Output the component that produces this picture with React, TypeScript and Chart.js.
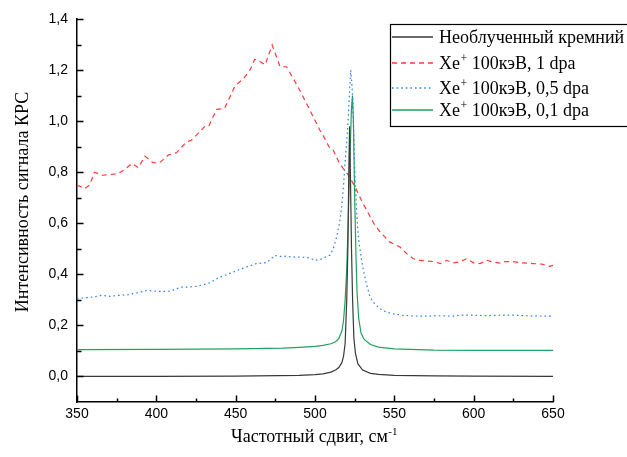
import React, { useEffect, useRef } from "react";
import { Chart, registerables } from "chart.js";

Chart.register(...registerables);

const seriesLabels = [
  ["Необлученный кремний", ""],
  ["Xe", "+", " 100кэВ, 1 dpa"],
  ["Xe", "+", " 100кэВ, 0,5 dpa"],
  ["Xe", "+", " 100кэВ, 0,1 dpa"],
];
const seriesColors = ["#3a3a3a", "#ff3b3b", "#2f7fe6", "#1fa35b"];
const seriesDash: number[][] = [[], [5, 4], [1.6, 3], []];

const xTicks = [350, 400, 450, 500, 550, 600, 650];
const yTicks = [0, 0.2, 0.4, 0.6, 0.8, 1.0, 1.2, 1.4];

const unirradiated: [number, number][] = [
  [350, 0.0], [400, 0.0], [450, 0.001], [490, 0.004], [500, 0.007], [505, 0.01],
  [510, 0.017], [513, 0.025], [515, 0.035], [517, 0.055], [518, 0.08], [519, 0.13],
  [520, 0.3], [520.7, 0.5], [521.3, 0.8], [521.8, 0.98], [522.3, 0.8], [523, 0.5],
  [523.7, 0.3], [524.5, 0.15], [525.5, 0.09], [527, 0.05], [530, 0.025], [535, 0.012],
  [540, 0.008], [550, 0.004], [575, 0.002], [600, 0.001], [650, 0.0],
];

const dpa1: [number, number][] = [
  [350, 0.749], [355, 0.736], [358, 0.75], [361, 0.8], [366, 0.788], [370, 0.79],
  [376, 0.795], [380, 0.81], [384.5, 0.834], [388.7, 0.818], [392.8, 0.863], [398, 0.837],
  [402, 0.837], [407.5, 0.867], [412.8, 0.877], [419, 0.919], [422, 0.925], [426, 0.95],
  [430.7, 0.98], [433, 0.98], [438, 1.046], [443, 1.05], [446, 1.09], [449.5, 1.137],
  [455, 1.167], [459, 1.2], [462, 1.242], [465, 1.235], [468.5, 1.22], [473, 1.298],
  [478, 1.213], [482, 1.213], [486, 1.17], [490.5, 1.12], [496.8, 1.043], [503, 0.965],
  [505, 0.945], [509.4, 0.893], [511.5, 0.886], [515, 0.84], [517.8, 0.814], [522, 0.78],
  [526.3, 0.729], [530, 0.68], [532.6, 0.651], [537, 0.6], [541, 0.566], [547, 0.527],
  [553.5, 0.507], [558, 0.48], [562, 0.461], [566, 0.455], [570.4, 0.452], [575, 0.45],
  [579, 0.442], [583, 0.455], [587, 0.445], [591.3, 0.449], [595.6, 0.461], [600, 0.445],
  [604, 0.442], [608.3, 0.455], [612, 0.448], [616.5, 0.444], [620, 0.45], [625, 0.45],
  [630, 0.445], [637.6, 0.442], [643, 0.44], [648, 0.431], [650, 0.435],
];

const dpa05: [number, number][] = [
  [350, 0.305], [355, 0.308], [360, 0.311], [365.5, 0.318], [370.8, 0.314], [377, 0.318],
  [382, 0.32], [387.6, 0.327], [394, 0.337], [400, 0.334], [404, 0.333], [408.6, 0.334],
  [412, 0.342], [416, 0.35], [420, 0.35], [425.4, 0.353], [430, 0.36], [433.8, 0.367],
  [440, 0.389], [444, 0.398], [448.5, 0.409], [453, 0.42], [457, 0.429], [463, 0.442],
  [469.5, 0.446], [474.8, 0.474], [478, 0.47], [482, 0.471], [486, 0.467], [490.5, 0.468],
  [496.8, 0.464], [500, 0.455], [503, 0.457], [505.2, 0.464], [509.4, 0.475], [511.5, 0.5],
  [513.6, 0.546], [515.5, 0.6], [516.8, 0.664], [518, 0.75], [518.9, 0.834], [520, 0.92],
  [521, 1.017], [521.8, 1.12], [522.5, 1.2], [523.2, 1.15], [523.8, 1.082], [524.5, 0.93],
  [525.2, 0.78], [526.2, 0.65], [527.3, 0.546], [529, 0.47], [530.5, 0.416], [532.5, 0.36],
  [534.7, 0.311], [537.5, 0.285], [541, 0.265], [545, 0.252], [549.5, 0.245], [555, 0.24],
  [562, 0.237], [568, 0.236], [574.7, 0.237], [580, 0.238], [587, 0.236], [592, 0.24],
  [600, 0.24], [608, 0.238], [617, 0.24], [625, 0.24], [632, 0.238], [640, 0.237],
  [648, 0.236], [650, 0.236],
];

const dpa01: [number, number][] = [
  [350, 0.105], [400, 0.106], [450, 0.108], [480, 0.111], [490, 0.114], [500, 0.118],
  [505, 0.122], [510, 0.128], [513, 0.136], [515, 0.148], [517, 0.18], [518, 0.22],
  [519, 0.3], [520, 0.42], [521, 0.62], [522, 0.86], [523, 1.05], [523.6, 1.1],
  [524.2, 1.0], [525, 0.7], [525.8, 0.48], [526.5, 0.33], [527.5, 0.23], [529, 0.17],
  [531, 0.145], [535, 0.125], [540, 0.115], [550, 0.108], [575, 0.103], [600, 0.102],
  [650, 0.102],
];

const allSeries = [unirradiated, dpa1, dpa05, dpa01];

const SERIF = '"Liberation Serif", "Times New Roman", serif';
const SANS = '"Liberation Sans", Arial, sans-serif';

const decorPlugin = {
  id: "decor",
  afterDraw(chart: any) {
    const ctx = chart.ctx as CanvasRenderingContext2D;
    const xs = chart.scales.x;
    const ys = chart.scales.y;
    const area = chart.chartArea;
    ctx.save();
    ctx.strokeStyle = "#000";
    ctx.lineWidth = 1.5;
    for (let v = 350; v <= 650; v += 25) {
      const px = Math.round(xs.getPixelForValue(v)) + 0.5;
      const len = v % 50 === 0 ? 6.5 : 3.5;
      ctx.beginPath();
      ctx.moveTo(px, area.bottom);
      ctx.lineTo(px, area.bottom - len);
      ctx.stroke();
    }
    for (let i = 0; i <= 14; i++) {
      const v = i / 10;
      const py = Math.round(ys.getPixelForValue(v)) + 0.5;
      const len = i % 2 === 0 ? 6.5 : 4.5;
      ctx.beginPath();
      ctx.moveTo(area.left, py);
      ctx.lineTo(area.left + len, py);
      ctx.stroke();
    }
    ctx.fillStyle = "#000";
    ctx.font = `18px ${SERIF}`;
    ctx.save();
    ctx.translate(23, 202);
    ctx.rotate(-Math.PI / 2);
    ctx.textAlign = "center";
    ctx.textBaseline = "middle";
    ctx.fillText("Интенсивность сигнала КРС", 0, 0);
    ctx.restore();
    const main = "Частотный сдвиг, см";
    const sup = "-1";
    ctx.font = `18px ${SERIF}`;
    const w1 = ctx.measureText(main).width;
    ctx.font = `11px ${SERIF}`;
    const w2 = ctx.measureText(sup).width;
    const startX = 314 - (w1 + w2) / 2;
    ctx.textAlign = "left";
    ctx.textBaseline = "alphabetic";
    ctx.font = `18px ${SERIF}`;
    ctx.fillText(main, startX, 442);
    ctx.font = `11px ${SERIF}`;
    ctx.fillText(sup, startX + w1 + 0.5, 435);

    const bx = 390.5, by = 24.5, bw = 300, bh = 102;
    ctx.fillStyle = "#fff";
    ctx.fillRect(bx, by, bw, bh);
    ctx.strokeStyle = "#000";
    ctx.lineWidth = 1.2;
    ctx.strokeRect(bx, by, bw, bh);
    const rows = [37, 63, 88, 110];
    rows.forEach((ry, i) => {
      ctx.save();
      ctx.strokeStyle = seriesColors[i];
      ctx.lineWidth = 1.5;
      ctx.setLineDash(seriesDash[i]);
      ctx.beginPath();
      ctx.moveTo(392, ry);
      ctx.lineTo(433, ry);
      ctx.stroke();
      ctx.restore();
      ctx.fillStyle = "#000";
      ctx.textBaseline = "alphabetic";
      ctx.textAlign = "left";
      const parts = seriesLabels[i];
      const base = ry + 6;
      let x = 439;
      ctx.font = `18px ${SERIF}`;
      ctx.fillText(parts[0], x, base);
      x += ctx.measureText(parts[0]).width;
      if (parts.length > 2) {
        ctx.font = `12px ${SERIF}`;
        ctx.fillText(parts[1], x + 0.5, base - 7);
        x += ctx.measureText(parts[1]).width + 0.5;
        ctx.font = `18px ${SERIF}`;
        ctx.fillText(parts[2], x, base);
      }
    });
    ctx.restore();
  },
};

export default function App() {
  const ref = useRef<HTMLCanvasElement | null>(null);
  useEffect(() => {
    document.body.style.margin = "0";
    const canvas = ref.current;
    if (!canvas) return;
    const chart = new Chart(canvas, {
      type: "line",
      data: {
        datasets: allSeries.map((s, i) => ({
          label: seriesLabels[i].join(""),
          data: s.map(([x, y]) => ({ x, y })),
          borderColor: seriesColors[i],
          borderWidth: 1.2,
          borderDash: seriesDash[i],
          pointRadius: 0,
          fill: false,
          tension: 0,
        })),
      },
      options: {
        responsive: false,
        animation: false,
        layout: { padding: { top: 19, right: 74, left: 0, bottom: 0 } },
        plugins: { legend: { display: false }, tooltip: { enabled: false } },
        scales: {
          x: {
            type: "linear",
            min: 350,
            max: 650,
            afterFit: (s: any) => { s.height = 55; },
            afterBuildTicks: (s: any) => { s.ticks = xTicks.map((v) => ({ value: v })); },
            grid: { display: false, drawTicks: false },
            border: { display: true, color: "#000", width: 1.5 },
            ticks: {
              padding: 4,
              color: "#000",
              font: { family: SANS, size: 14 },
              maxRotation: 0,
              callback: (v: any) => String(v),
            },
          },
          y: {
            type: "linear",
            min: -0.1,
            max: 1.4,
            afterFit: (s: any) => { s.width = 77; },
            afterBuildTicks: (s: any) => { s.ticks = yTicks.map((v) => ({ value: v })); },
            grid: { display: false, drawTicks: false },
            border: { display: true, color: "#000", width: 1.5 },
            ticks: {
              padding: 9,
              color: "#000",
              font: { family: SANS, size: 14 },
              callback: (v: any) => Number(v).toFixed(1).replace(".", ","),
            },
          },
        },
      },
      plugins: [decorPlugin],
    });
    return () => chart.destroy();
  }, []);
  return (
    <div style={{ position: "absolute", left: 0, top: 0, width: 627, height: 457, background: "#fff" }}>
      <canvas ref={ref} width={627} height={457} />
    </div>
  );
}
